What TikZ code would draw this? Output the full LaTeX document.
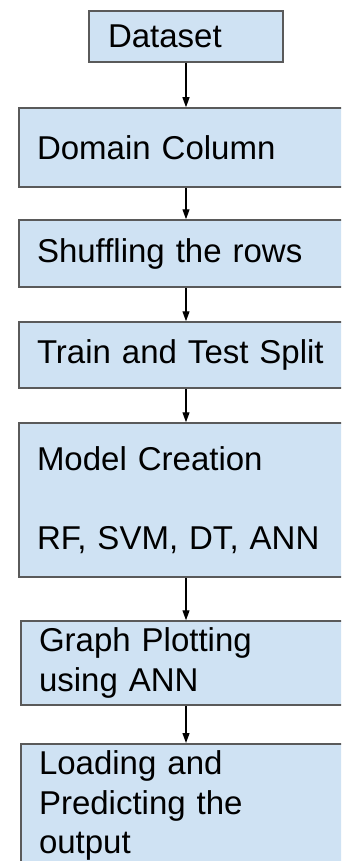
\documentclass[tikz,border=0pt]{standalone}
\usepackage{fontspec}
\setmainfont{Liberation Sans}
\usetikzlibrary{arrows.meta}
\definecolor{boxfill}{HTML}{CFE2F3}
\definecolor{boxline}{HTML}{5A5A5A}
\begin{document}
\begin{tikzpicture}[x=1pt,y=-1pt,
  stage/.style={rectangle,draw=boxline,fill=boxfill,line width=1.5pt,inner xsep=18pt,inner ysep=0pt,
    text width=305pt,align=left,font=\fontsize{33}{39.5}\selectfont},
  flow/.style={-{Triangle[length=10pt,width=7pt]},line width=1.2pt}]
  \useasboundingbox (0,0) rectangle (341,861);
  \clip (0,0) rectangle (341,861);

  \node[stage,text width=156pt,inner xsep=19pt,minimum height=51pt] (data) at (186,36.5) {Dataset};
  \node[stage,minimum height=79pt] (domain) at (189.5,147.5) {Domain Column};
  \node[stage,minimum height=67pt] (shuffle) at (189.5,253.5) {Shuffling the rows};
  \node[stage,minimum height=66pt] (split) at (189.5,355) {Train and Test Split};
  \node[stage,minimum height=154pt] (model) at (189.5,500) {Model Creation\\[39.5pt]RF, SVM, DT, ANN};
  \node[stage,minimum height=84pt] (graph) at (191.5,663) {Graph Plotting\\using ANN};
  \node[stage,anchor=north,inner ysep=7pt] (predict) at (191.5,743) {Loading and\\Predicting the\\output};

  \draw[flow] (data) -- (data |- domain.north);
  \draw[flow] (data |- domain.south) -- (data |- shuffle.north);
  \draw[flow] (data |- shuffle.south) -- (data |- split.north);
  \draw[flow] (data |- split.south) -- (data |- model.north);
  \draw[flow] (data |- model.south) -- (data |- graph.north);
  \draw[flow] (data |- graph.south) -- (data |- predict.north);
\end{tikzpicture}
\end{document}
